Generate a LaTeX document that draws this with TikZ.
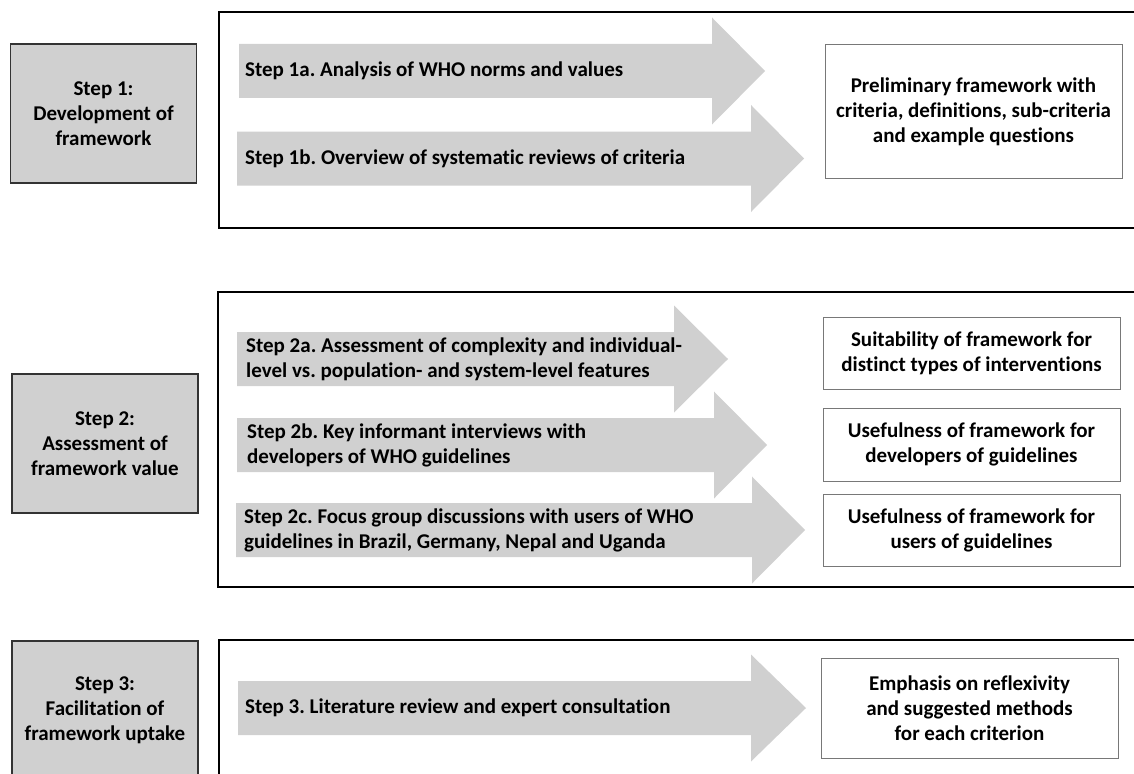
\documentclass[tikz,border=0pt]{standalone}
\usepackage{fontspec}
\setmainfont{Carlito}[Ligatures=NoCommon]
\usetikzlibrary{positioning}

\definecolor{boxgray}{RGB}{208,208,208}
\definecolor{edgegray}{RGB}{120,120,120}

\begin{document}
\frenchspacing
\begin{tikzpicture}[x=1pt,y=-1pt,font=\fontsize{21}{25}\selectfont\bfseries]
    \useasboundingbox (0,0) rectangle (1134,773);
    \clip (0,0) rectangle (1134,773);
    %%%%% THE FRAMES
    \begin{scope}[line width=2pt]
      \draw (219,12) rectangle (1160,228);
      \draw (218,292) rectangle (1160,587);
      \draw (219,640) rectangle (1160,820);
    \end{scope}
    %%%%% THE STEPS
    \begin{scope}[every node/.style={fill=boxgray,draw=black!80,line width=1.3pt,align=center,
        minimum width=186pt,minimum height=139pt,inner sep=0pt}]
      \node (STEP1) at (103.5,113.5) {Step 1:\\Development of\\framework};
      \node (STEP2) at (105,443.5) {Step 2:\\Assessment of\\framework value};
      \node (STEP3) at (105,710.5) {Step 3:\\Facilitation of\\framework uptake};
    \end{scope}
    %%%%% THE ARROWS
    \foreach \xl/\yc/\xh/\xt in {239/71/712/765, 237/158.5/751/804, 237/359/674/728,
        237/445/714/767, 236/530/752/805, 238/708/751/806}
      \fill[boxgray] (\xl,\yc-27) -- (\xh,\yc-27) -- (\xh,\yc-53.5) -- (\xt,\yc)
        -- (\xh,\yc+53.5) -- (\xh,\yc+27) -- (\xl,\yc+27) -- cycle;
    % texts on the arrows
    \begin{scope}[every node/.style={anchor=west,align=left,inner sep=0pt}]
      \node (A1a) at (245,71) {Step 1a. Analysis of WHO norms and values};
      \node (A1b) at (245,158.5) {Step 1b. Overview of systematic reviews of criteria};
      \node (A2a) at (246,359) {Step 2a. Assessment of complexity and individual-\\level vs. population- and system-level features};
      \node (A2b) at (247,445) {Step 2b. Key informant interviews with\\developers of WHO guidelines};
      \node (A2c) at (244,530) {Step 2c. Focus group discussions with users of WHO\\guidelines in Brazil, Germany, Nepal and Uganda};
      \node (A3) at (245,708) {Step 3. Literature review and expert consultation};
    \end{scope}
    %%%%% THE RESULTS
    \begin{scope}[every node/.style={draw=edgegray,line width=1pt,align=center,
        minimum width=297pt,inner sep=0pt}]
      \node[minimum height=133pt] (R1) at (973.5,111.5)
        {Preliminary framework with\\criteria, definitions, sub-criteria\\and example questions};
      \node[minimum height=72pt] (R2a) at (971.5,353)
        {Suitability of framework for\\distinct types of interventions};
      \node[minimum height=73pt,below=18pt of R2a] (R2b)
        {Usefulness of framework for\\developers of guidelines};
      \node[minimum height=72pt,below=12pt of R2b] (R2c)
        {Usefulness of framework for\\users of guidelines};
      \node[minimum height=100pt] (R3) at (969.5,708)
        {Emphasis on reflexivity\\and suggested methods\\for each criterion};
    \end{scope}
  \end{tikzpicture}
\end{document}
